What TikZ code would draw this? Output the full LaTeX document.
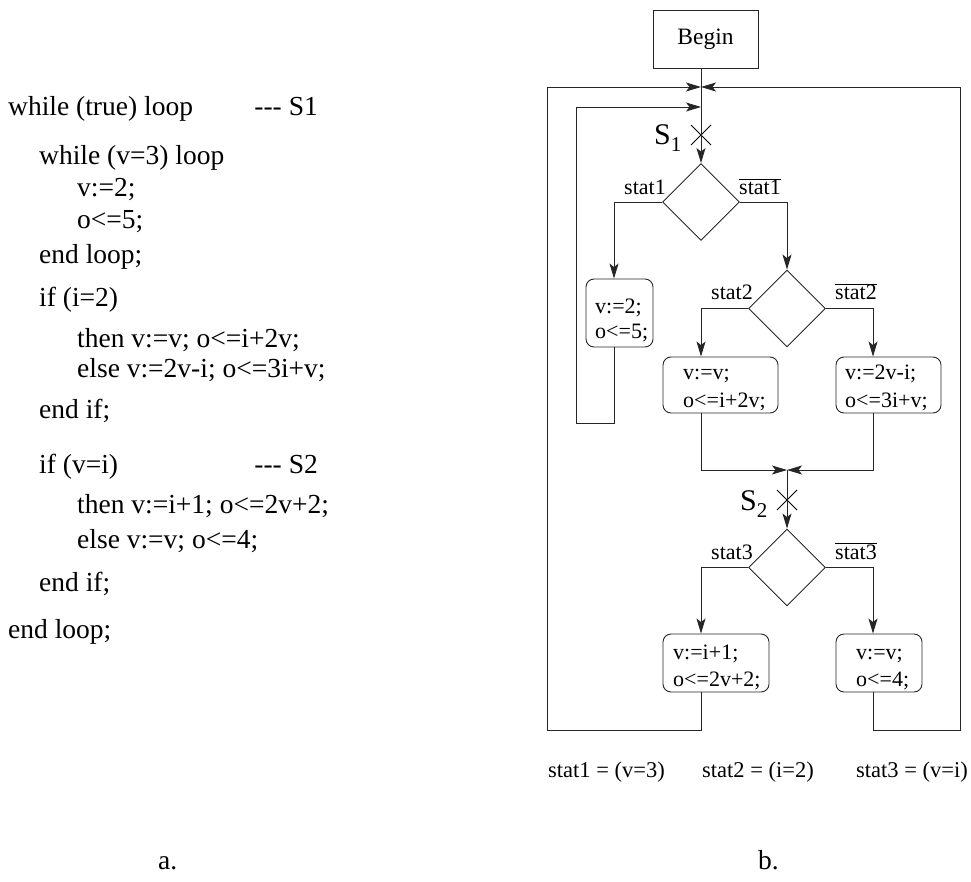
\documentclass[tikz,border=0pt]{standalone}
\usepackage{fontspec}
\setmainfont{Liberation Serif}
\usetikzlibrary{arrows.meta,shapes.geometric,shapes.misc}
\newcommand{\codefont}{\fontsize{27.5}{31}\selectfont}
\newcommand{\dfont}{\fontsize{22}{26}\selectfont}
\begin{document}
\begin{tikzpicture}[x=1pt,y=-1pt,
  ln/.style={line width=0.9pt,draw=black!85},
  arr/.style={ln,-{Stealth[length=15pt,width=9pt,inset=3.5pt]}},
  sbox/.style={draw=black!85,line width=0.9pt,rounded corners=8pt,inner sep=0pt},
  dia/.style={diamond,draw=black!85,line width=0.9pt,minimum width=77pt,minimum height=77pt,inner sep=0pt},
  code/.style={anchor=base west,inner sep=0pt,font=\codefont},
  txt/.style={anchor=base west,inner sep=0pt,font=\dfont},
  ftxt/.style={anchor=base west,inner sep=0pt,font=\fontsize{22.5}{26}\selectfont},
  xmark/.style={cross out,draw=black,line width=1pt,minimum width=19pt,minimum height=19pt,inner sep=0pt}
]
\useasboundingbox (0,0) rectangle (971,882);
% ---------- code (a) ----------
\node[code] (c1) at (8,116) {while (true) loop};
\node[code,anchor=base east] (c1s) at (318,116) {-{}-{}- S1};
\node[code] (c2) at (39,165) {while (v=3) loop};
\node[code] (c3) at (77,197) {v:=2;};
\node[code] (c4) at (77,229) {o<=5;};
\node[code] (c5) at (39,264) {end loop;};
\node[code] (c6) at (39,307) {if (i=2)};
\node[code] (c7) at (77,348) {then v:=v; o<=i+2v;};
\node[code] (c8) at (77,377) {else v:=2v-i; o<=3i+v;};
\node[code] (c9) at (39,418) {end if;};
\node[code] (c10) at (39,473) {if (v=i)};
\node[code,anchor=base east] (c10s) at (318,473) {-{}-{}- S2};
\node[code] (c11) at (77,513) {then v:=i+1; o<=2v+2;};
\node[code] (c12) at (77,548) {else v:=v; o<=4;};
\node[code] (c13) at (39,591) {end if;};
\node[code] (c14) at (8,638) {end loop;};
\node[code] (la) at (158,869) {a.};
\node[code] (lb) at (758,869) {b.};
% ---------- flowchart (b) ----------
\node[draw=black!85,line width=0.9pt,minimum width=105pt,minimum height=58pt,inner sep=0pt,font=\fontsize{23.5}{27}\selectfont] (begin) at (705.5,39) {Begin};
\node[dia] (d1) at (701,202) {};
\node[dia] (d2) at (787,308.5) {};
\node[dia] (d3) at (787,567.5) {};
\node[sbox,minimum width=67pt,minimum height=68pt] (b1) at (619.5,313) {};
\node[sbox,minimum width=115pt,minimum height=56pt] (b2) at (720.5,385) {};
\node[sbox,minimum width=105pt,minimum height=56pt] (b3) at (888.5,385) {};
\node[sbox,minimum width=106pt,minimum height=58pt] (b4) at (716,663) {};
\node[sbox,minimum width=86pt,minimum height=58pt] (b5) at (879,663) {};
% box texts
\node[txt] (t1a) at (595,314) {v:=2;};
\node[txt] (t1b) at (595,338) {o<=5;};
\node[txt] (t2a) at (683,379) {v:=v;};
\node[txt] (t2b) at (683,407) {o<=i+2v;};
\node[txt] (t3a) at (845,379) {v:=2v-i;};
\node[txt] (t3b) at (845,407) {o<=3i+v;};
\node[txt] (t4a) at (673,659) {v:=i+1;};
\node[txt] (t4b) at (673,686) {o<=2v+2;};
\node[txt] (t5a) at (856,659) {v:=v;};
\node[txt] (t5b) at (856,686) {o<=4;};
% condition labels
\node[txt] (s1) at (624,195) {stat1};
\node[txt] (s1n) at (739,195) {$\overline{\mbox{stat1}}$};
\node[txt] (s2) at (711,300) {stat2};
\node[txt] (s2n) at (835,300) {$\overline{\mbox{stat2}}$};
\node[txt] (s3) at (711,559) {stat3};
\node[txt] (s3n) at (835,559) {$\overline{\mbox{stat3}}$};
% S labels and cut marks
\node[xmark] (x1) at (701,135) {};
\node[xmark] (x2) at (787,500) {};
\node[anchor=base west,inner sep=0pt] (S1) at (654,145) {\fontsize{30}{30}\selectfont S\fontsize{21}{21}\selectfont\raisebox{-7pt}{1}};
\node[anchor=base west,inner sep=0pt] (S2) at (740,510) {\fontsize{30}{30}\selectfont S\fontsize{21}{21}\selectfont\raisebox{-7pt}{2}};
% footer
\node[ftxt] (f1) at (548,777) {stat1 = (v=3)};
\node[ftxt] (f2) at (702,777) {stat2 = (i=2)};
\node[ftxt] (f3) at (856,777) {stat3 = (v=i)};
% coordinates
\coordinate (m0) at (701,87);
\coordinate (m1) at (701,107);
\coordinate (j2) at (787,470);
\coordinate (xa) at (614,0);
\coordinate (xb) at (701,0);
\coordinate (xc) at (873,0);
% connectors
\draw[arr] (d1.north |- begin.south) -- (d1.north);
\draw[arr] (d1.west) -| (xa |- b1.north);
\draw[arr] (d1.east) -| (d2.north);
\draw[arr] (xa |- b1.south) -- (614,423) -- (576,423) -- (576,107) -- (m1);
\draw[arr] (d2.west) -| (xb |- b2.north);
\draw[arr] (d2.east) -| (xc |- b3.north);
\draw[arr] (xb |- b2.south) |- (j2);
\draw[arr] (xc |- b3.south) |- (j2);
\draw[arr] (j2) -- (d3.north);
\draw[arr] (d3.west) -| (xb |- b4.north);
\draw[arr] (d3.east) -| (xc |- b5.north);
\draw[arr] (xb |- b4.south) -- (701,730) -- (547,730) -- (547,87) -- (m0);
\draw[arr] (xc |- b5.south) -- (873,730) -- (960,730) -- (960,87) -- (m0);
\end{tikzpicture}
\end{document}
